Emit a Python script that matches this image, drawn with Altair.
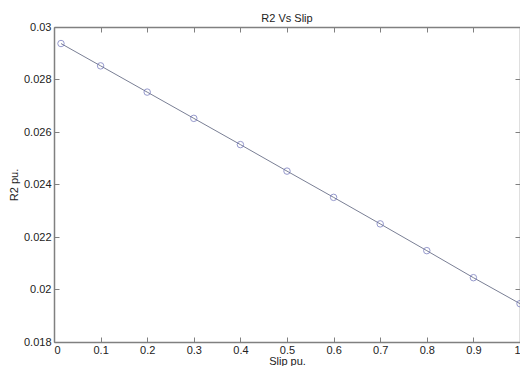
import altair as alt
import pandas as pd

slip = [0.015, 0.1, 0.2, 0.3, 0.4, 0.5, 0.6, 0.7, 0.8, 0.9, 1.0]
r2 = [0.02937, 0.02852, 0.02752, 0.02652, 0.02552, 0.02451, 0.02351, 0.02250, 0.02148, 0.02045, 0.01946]

x_ticks = [0, 0.1, 0.2, 0.3, 0.4, 0.5, 0.6, 0.7, 0.8, 0.9, 1.0]
y_ticks = [0.018, 0.020, 0.022, 0.024, 0.026, 0.028, 0.030]

df = pd.DataFrame({"slip": slip, "r2": r2})

W, H = 466, 315
FONT = "Liberation Sans"
AX = "#808080"
TXT = "#222222"

xs = alt.Scale(domain=[0, 1], nice=False, zero=False)
ys = alt.Scale(domain=[0.018, 0.030], nice=False, zero=False)

def yfmt():
    return "datum.value == 0.02 ? '0.02' : datum.value == 0.03 ? '0.03' : format(datum.value, '.3f')"

def xfmt():
    return "datum.value == 0 ? '0' : datum.value == 1 ? '1' : format(datum.value, '.1f')"

# main layer: labels + left/bottom domains
x_main = alt.X("slip:Q", scale=xs, axis=alt.Axis(
    orient="bottom", values=x_ticks, ticks=False, labelExpr=xfmt(), grid=False,
    title="Slip pu.", titlePadding=0, labelPadding=2, domainColor=AX, domainWidth=1.5))
y_main = alt.Y("r2:Q", scale=ys, axis=alt.Axis(
    orient="left", values=y_ticks, ticks=False, labelExpr=yfmt(), grid=False,
    title="R2 pu.", titlePadding=4, labelPadding=3, domainColor=AX, domainWidth=1.5))

line = alt.Chart(df).mark_line(color="#7a7f95", strokeWidth=1).encode(x=x_main, y=y_main)

# inward ticks on bottom and left edges
x_in_bottom = alt.X("slip:Q", scale=xs, axis=alt.Axis(
    orient="top", offset=-H, values=x_ticks, labels=False, domain=False, grid=False,
    title=None, tickColor=AX, tickSize=5, tickWidth=1))
y_in_left = alt.Y("r2:Q", scale=ys, axis=alt.Axis(
    orient="right", offset=-W, values=y_ticks, labels=False, domain=False, grid=False,
    title=None, tickColor=AX, tickSize=5, tickWidth=1))

pts = alt.Chart(df).mark_point(shape="circle", filled=False, color="#6a6fb8",
                               size=42, strokeWidth=1).encode(x=x_in_bottom, y=y_in_left)

# top and right edges with inward ticks
x_in_top = alt.X("slip:Q", scale=xs, axis=alt.Axis(
    orient="bottom", offset=-H, values=x_ticks, labels=False, grid=False,
    title=None, tickColor=AX, tickSize=5, tickWidth=1, domainColor=AX, domainWidth=1.5))
y_in_right = alt.Y("r2:Q", scale=ys, axis=alt.Axis(
    orient="left", offset=-W, values=y_ticks, labels=False, grid=False,
    title=None, tickColor=AX, tickSize=5, tickWidth=1, domainColor=AX, domainWidth=1.5))

frame = alt.Chart(df).mark_point(opacity=0).encode(x=x_in_top, y=y_in_right)

chart = alt.layer(line, pts, frame).resolve_axis(x="independent", y="independent").properties(
    width=W, height=H,
    title=alt.TitleParams("R2 Vs Slip", fontSize=11, fontWeight="normal", font=FONT,
                          color=TXT, offset=6, dy=9),
    autosize=alt.AutoSizeParams(type="none"),
    padding={"left": 46, "top": 19, "right": 0, "bottom": 24},
).configure_view(stroke=None).configure_axis(
    labelFont=FONT, titleFont=FONT, labelFontSize=11, titleFontSize=11,
    labelColor=TXT, titleColor=TXT, titleFontWeight="normal"
)

chart.save("out.html", embed_options={"renderer": "svg", "actions": False})
